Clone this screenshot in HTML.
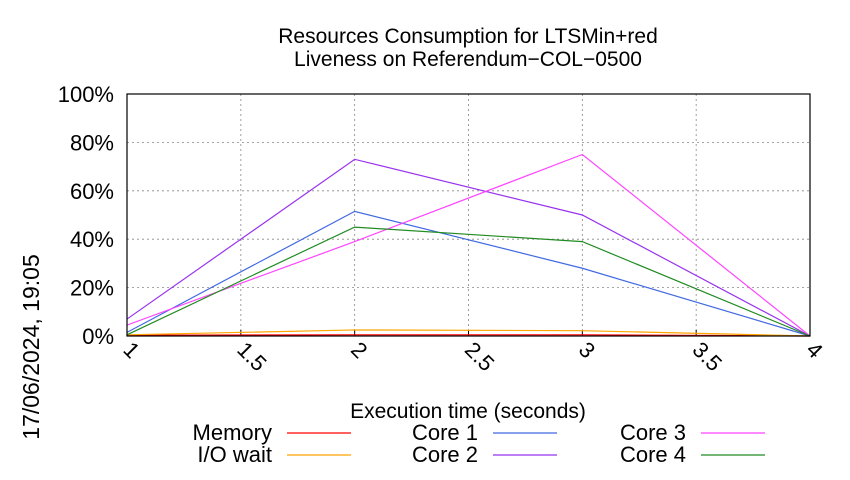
<!DOCTYPE html>
<html><head><meta charset="utf-8"><style>
body{margin:0;background:#fff;}
svg text{font-family:"Liberation Sans",sans-serif;}
</style></head><body>
<svg id="chart" width="850" height="475" xmlns="http://www.w3.org/2000/svg">
<text x="468" y="43" font-size="21" text-anchor="middle">Resources Consumption for LTSMin+red</text>
<text x="468" y="66" font-size="21" text-anchor="middle">Liveness on Referendum−COL−0500</text>
<g id="grid"></g>
<g id="series"></g>
<rect x="127" y="94" width="683" height="242" fill="none" stroke="#000" stroke-width="1.2"/>
<text x="468" y="418" font-size="21" text-anchor="middle">Execution time (seconds)</text>
<text transform="translate(39,347) rotate(-90)" font-size="23" text-anchor="middle">17/06/2024, 19:05</text>
<g id="legend"></g>
</svg>
<script>
const xTicks=[1,1.5,2,2.5,3,3.5,4];
const yTicks=[0,20,40,60,80,100];
const times=[1,2,3,4];
const seriesNames=["Memory","I/O wait","Core 1","Core 2","Core 3","Core 4"];
const memory=[0.3,0.5,0.5,0];
const ioWait=[0.5,2.5,2.2,0];
const core1=[1.5,51.5,28,0];
const core2=[7,73,50,0];
const core3=[4.5,39,75,0];
const core4=[0.5,45,39,0];
const colors=["#ff0000","#ffa500","#4169e1","#9933ee","#ff44ff","#228b22"];
const NS="http://www.w3.org/2000/svg";
const X=v=>127+(v-1)/3*683, Y=v=>336-v/100*242;
const grid=document.getElementById('grid');
function mk(t,a,p){const e=document.createElementNS(NS,t);for(const k in a)e.setAttribute(k,a[k]);p.appendChild(e);return e;}
xTicks.forEach((t,i)=>{
 if(i>0&&i<xTicks.length-1){const l=mk('line',{x1:X(t),x2:X(t),y1:94,y2:336,stroke:'#888','stroke-dasharray':'2,3','stroke-width':0.8},grid);
 
 }
 const tk=mk('line',{x1:X(t),x2:X(t),y1:336,y2:330,stroke:'#000'},grid);
 
 
 const tx=mk('text',{transform:`translate(${X(t)-5},${351}) rotate(45)`,'font-size':22},grid);
 
 
 tx.textContent=t;
});
yTicks.forEach((t,i)=>{
 if(i>0&&i<yTicks.length-1){const l=mk('line',{x1:127,x2:810,y1:Y(t),y2:Y(t),stroke:'#888','stroke-dasharray':'2,3','stroke-width':0.8},grid);
 
 }
 const tx=mk('text',{x:114,y:Y(t)+8,'font-size':22,'text-anchor':'end'},grid);
 
 
 tx.textContent=t+'%';
});
const data=[memory,ioWait,core1,core2,core3,core4];
const sg=document.getElementById('series');
data.forEach((d,i)=>{
 const p=mk('polyline',{points:d.map((v,j)=>X(times[j])+','+Y(v)).join(' '),fill:'none',stroke:colors[i],'stroke-width':1.2},sg);
 
 
});
const lg=document.getElementById('legend');
const lx=[272,478,686], ly=[440,462];
seriesNames.forEach((n,i)=>{
 const c=Math.floor(i/2), r=i%2;
 const t=mk('text',{x:lx[c],y:ly[r],'font-size':22,'text-anchor':'end'},lg);
 
 
 t.textContent=n;
 const l=mk('line',{x1:lx[c]+15,x2:lx[c]+79,y1:ly[r]-7,y2:ly[r]-7,stroke:colors[i],'stroke-width':1.2},lg);
 
 
});
</script>
</body></html>
